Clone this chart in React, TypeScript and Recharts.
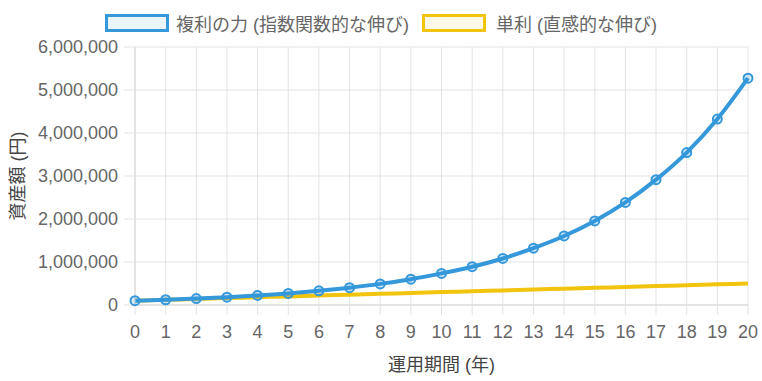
import React from 'react';
import { LineChart, Line, XAxis, YAxis, CartesianGrid, Legend } from 'recharts';

const years = [0, 1, 2, 3, 4, 5, 6, 7, 8, 9, 10, 11, 12, 13, 14, 15, 16, 17, 18, 19, 20];
const compound = [100000, 122000, 149000, 182000, 222000, 270000, 330000, 403000, 491000, 600000, 735000, 890000, 1082000, 1322000, 1605000, 1955000, 2385000, 2915000, 3545000, 4325000, 5275000];
const simple = [100000, 120000, 140000, 160000, 180000, 200000, 220000, 240000, 260000, 280000, 300000, 320000, 340000, 360000, 380000, 400000, 420000, 440000, 460000, 480000, 500000];
const yTicks = [0, 1000000, 2000000, 3000000, 4000000, 5000000, 6000000];

const seriesNames = ['複利の力 (指数関数的な伸び)', '単利 (直感的な伸び)'];
const xTitle = '運用期間 (年)';
const yTitle = '資産額 (円)';

const data = years.map((y, i) => ({ year: y, compound: compound[i], simple: simple[i] }));

const FONT = "'Liberation Sans', Arial, 'Noto Sans CJK JP', sans-serif";
const BLUE = '#3498db';
const YELLOW = '#f1c40f';
const GRID = '#e3e3e3';

const legendItems = [
  { name: seriesNames[0], stroke: BLUE, fill: 'rgba(52,152,219,0.1)' },
  { name: seriesNames[1], stroke: YELLOW, fill: 'rgba(241,196,15,0.1)' },
];

const renderLegend = () => (
  <div style={{ display: 'flex', justifyContent: 'center', alignItems: 'center', height: 40, fontFamily: FONT, fontSize: 18, color: '#666' }}>
    {legendItems.map((it, i) => (
      <div key={i} style={{ display: 'flex', alignItems: 'center', marginRight: i === 0 ? 13 : 0 }}>
        <div style={{ width: 58, height: 12, border: `3px solid ${it.stroke}`, background: it.fill, marginRight: i === 0 ? 7 : 10 }} />
        <span>{it.name}</span>
      </div>
    ))}
  </div>
);

const YTitle = () => {
  const cy = 176;
  return (
    <text x={18} y={cy} transform={`rotate(-90, 18, ${cy})`} textAnchor="middle" dominantBaseline="central" fill="#444" fontSize={18} fontFamily={FONT}>
      {yTitle}
    </text>
  );
};

const XTitle = () => {
  return (
    <text x={441.5} y={371} textAnchor="middle" fill="#444" fontSize={18} fontFamily={FONT}>
      {xTitle}
    </text>
  );
};

export default function App() {
  return (
    <div style={{ position: 'absolute', left: 0, top: 0, width: 762, height: 381, background: '#fff' }}>
      <LineChart width={762} height={381} data={data} margin={{ top: 7, right: 14, bottom: 0, left: 0 }}>
        <Legend verticalAlign="top" content={renderLegend} wrapperStyle={{ top: 3, left: 0, width: 762 }} />
        <CartesianGrid stroke={GRID} strokeWidth={1} />
        <XAxis
          dataKey="year"
          type="number"
          domain={[0, 20]}
          ticks={years}
          interval={0}
          height={76}
          tickSize={10}
          tickMargin={10}
          stroke="#d6d6d6"
          tickLine={{ stroke: GRID }}
          tick={{ fill: '#666', fontSize: 18, fontFamily: FONT }}
          label={<XTitle />}
        />
        <YAxis
          type="number"
          domain={[0, 6000000]}
          ticks={yTicks}
          interval={0}
          width={135}
          tickSize={11}
          tickMargin={6}
          stroke="#d6d6d6"
          tickLine={{ stroke: GRID }}
          tick={{ fill: '#666', fontSize: 18, fontFamily: FONT }}
          tickFormatter={(v: number) => v.toLocaleString('en-US')}
          label={<YTitle />}
        />
        <Line
          type="monotone"
          dataKey="simple"
          name={seriesNames[1]}
          stroke={YELLOW}
          strokeWidth={4}
          dot={false}
          activeDot={false}
          isAnimationActive={false}
        />
        <Line
          type="monotone"
          dataKey="compound"
          name={seriesNames[0]}
          stroke={BLUE}
          strokeWidth={4}
          dot={{ r: 4.5, stroke: BLUE, strokeWidth: 2, fill: 'rgba(52,152,219,0.2)' }}
          activeDot={false}
          isAnimationActive={false}
        />
      </LineChart>
    </div>
  );
}
